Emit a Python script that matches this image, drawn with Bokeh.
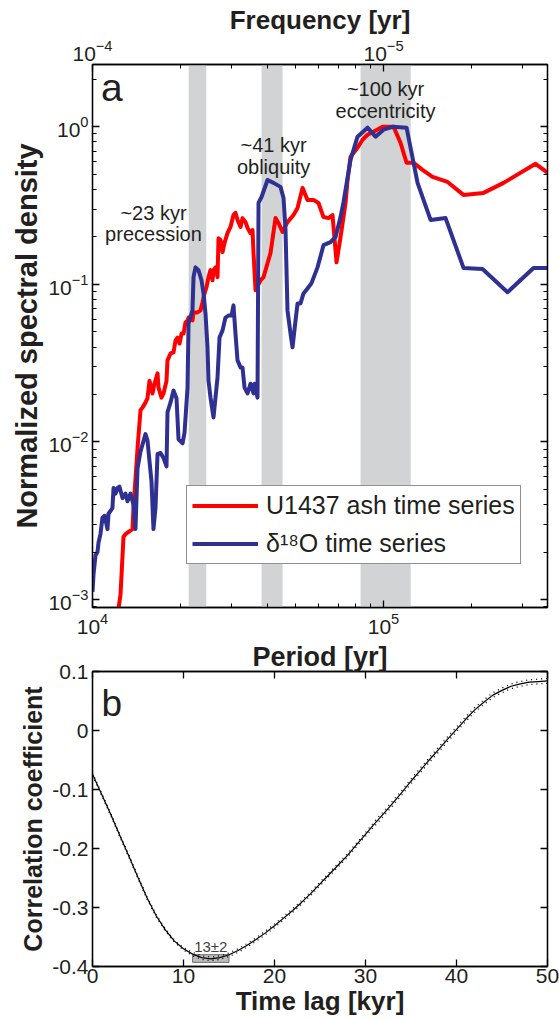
from bokeh.plotting import figure
from bokeh.models import (Range1d, LogAxis, LinearAxis, FixedTicker, LogTickFormatter,
                          LogScale, BoxAnnotation, Label, Legend, LegendItem,
                          CustomJSTickFormatter)
from bokeh.layouts import column
from bokeh.embed import file_html
from bokeh.resources import INLINE

FONT = "Liberation Sans"
TXT = "#231f20"
RED = "#ff0000"
BLUE = "#2e3192"

# ---------------- Panel a data (period in kyr, normalized spectral density) -------------
red_period = [12.19, 12.48, 12.78, 12.98, 13.72, 13.83, 14.28, 14.62, 14.85, 15.21, 15.45, 15.70,
              16.08, 16.33, 16.73, 16.86, 17.26, 17.54, 17.96, 18.10, 18.54, 18.98, 19.29, 19.60,
              19.91, 20.23, 20.55, 20.87, 21.21, 21.38, 22.06, 22.24, 22.95, 23.50, 23.88, 24.26,
              24.65, 25.04, 25.44, 25.85, 26.05, 26.47, 26.89, 27.10, 27.54, 27.98, 28.42, 29.10,
              29.80, 30.51, 31.00, 31.50, 32.26, 32.77, 33.57, 34.10, 34.91, 35.47, 35.75, 36.33,
              37.79, 38.70, 39.94, 40.90, 42.55, 43.57, 44.97, 46.78, 49.06, 50.65, 52.69, 54.81,
              57.47, 59.79, 62.19, 64.71, 66.79, 68.95, 71.17, 74.05, 75.23, 77.03, 81.42, 84.70,
              88.10, 92.38, 99.2, 108.2, 114.4, 120.0, 126.9, 136.1, 147.4, 166.0, 188.3, 220.6,
              258.5, 333.0, 366.1]
red_density = [0.0008, 0.00107, 0.0025, 0.0026, 0.0028, 0.0038, 0.0091, 0.0159, 0.0165, 0.0178,
               0.0189, 0.0244, 0.0203, 0.0234, 0.0272, 0.0221, 0.0191, 0.0203, 0.0244, 0.0329,
               0.0364, 0.037, 0.044, 0.0459, 0.0421, 0.0487, 0.0487, 0.0573, 0.059, 0.0615,
               0.059, 0.0663, 0.0663, 0.0683, 0.0767, 0.0875, 0.096, 0.111, 0.123, 0.106, 0.123,
               0.128, 0.111, 0.196, 0.191, 0.160, 0.183, 0.211, 0.231, 0.275, 0.284, 0.256,
               0.231, 0.263, 0.248, 0.228, 0.211, 0.221, 0.158, 0.0918, 0.106, 0.111, 0.136,
               0.158, 0.263, 0.245, 0.215, 0.248, 0.275, 0.305, 0.409, 0.343, 0.343, 0.328,
               0.267, 0.263, 0.275, 0.138, 0.199, 0.328, 0.459, 0.644, 0.735, 0.826, 0.889,
               0.929, 1.0, 1.0, 0.791, 0.590, 0.590, 0.532, 0.480, 0.446, 0.369, 0.380, 0.440,
               0.581, 0.510]

blue_period = [10.0, 10.08, 10.24, 10.40, 10.49, 10.65, 10.82, 11.0, 11.26, 11.35, 11.71, 11.81,
               12.0, 12.19, 12.38, 12.68, 12.98, 13.19, 13.51, 13.83, 14.05, 14.28, 14.62, 15.21,
               15.45, 15.95, 16.20, 16.46, 16.73, 17.13, 17.54, 17.96, 18.10, 18.54, 18.98, 19.44,
               19.75, 20.39, 20.71, 21.21, 21.38, 22.06, 22.24, 22.59, 23.13, 23.69, 24.07, 24.45,
               24.84, 25.04, 25.44, 26.05, 26.89, 27.32, 27.98, 28.64, 29.33, 30.04, 30.51, 31.00,
               31.50, 32.26, 32.77, 33.30, 34.10, 34.91, 35.75, 36.04, 36.90, 37.20, 38.09, 39.94,
               41.88, 44.26, 45.33, 46.05, 46.78, 47.91, 48.68, 49.85, 50.65, 51.86, 53.11, 54.81,
               56.57, 59.32, 62.19, 65.74, 68.40, 71.17, 72.89, 77.03, 81.42, 88.10, 93.87, 100.0,
               108.2, 120.0, 130.9, 145.1, 163.4, 188.3, 218.9, 266.8, 327.7, 366.1]
blue_density = [0.00112, 0.00144, 0.0019, 0.0020, 0.0023, 0.0026, 0.0033, 0.0034, 0.0028, 0.0035,
                0.0038, 0.0051, 0.0047, 0.0051, 0.0052, 0.0044, 0.0047, 0.0042, 0.0047, 0.0040,
                0.0028, 0.0068, 0.0087, 0.0112, 0.0102, 0.0056, 0.0028, 0.0038, 0.0084, 0.0085,
                0.0079, 0.0070, 0.0154, 0.0178, 0.0212, 0.0189, 0.0104, 0.0098, 0.0114, 0.0221,
                0.0564, 0.0683, 0.111, 0.128, 0.123, 0.106, 0.0875, 0.0653, 0.0398, 0.0244,
                0.0191, 0.0143, 0.0256, 0.0459, 0.0510, 0.0615, 0.0633, 0.0633, 0.0735, 0.0487,
                0.0329, 0.0297, 0.0297, 0.0221, 0.0203, 0.0234, 0.0203, 0.0234, 0.0191, 0.328,
                0.358, 0.459, 0.440, 0.415, 0.353, 0.221, 0.0683, 0.0487, 0.0398, 0.059, 0.0756,
                0.0756, 0.0875, 0.094, 0.1017, 0.128, 0.177, 0.185, 0.199, 0.267, 0.333, 0.616,
                0.864, 0.985, 0.864, 0.957, 1.0, 0.985, 0.440, 0.256, 0.263, 0.127, 0.125, 0.089,
                0.127, 0.127]

# orbital bands (kyr) and their labels
band_lo = [21.4, 38.1, 83.4]
band_hi = [24.6, 45.0, 124.0]
band_label1 = ["~23 kyr", "~41 kyr", "~100 kyr"]
band_label2 = ["precession", "obliquity", "eccentricity"]
band_label_x = [16.2, 41.9, 101.6]          # kyr
band_label_y1 = [0.283, 0.768, 1.746]
band_label_y2 = [0.208, 0.556, 1.264]

period_major = [1e4, 1e5]
period_minor = [2e4, 3e4, 4e4, 5e4, 6e4, 7e4, 8e4, 9e4, 2e5, 3e5]
dens_major = [1e-3, 1e-2, 1e-1, 1.0]
dens_minor = [k * 10.0 ** e for e in (-4, -3, -2, -1, 0) for k in range(2, 10)]

# ---------------- Panel b data -------------
lag = list(range(0, 51))
corr = [-0.074, -0.108, -0.142, -0.178, -0.213, -0.249, -0.284, -0.314, -0.338, -0.357,
        -0.370, -0.379, -0.385, -0.387, -0.385, -0.380, -0.373, -0.364, -0.354, -0.343,
        -0.331, -0.318, -0.305, -0.291, -0.276, -0.260, -0.244, -0.228, -0.212, -0.194,
        -0.176, -0.158, -0.141, -0.123, -0.105, -0.086, -0.068, -0.050, -0.033, -0.015,
        0.002, 0.019, 0.035, 0.048, 0.060, 0.068, 0.075, 0.079, 0.082, 0.083, 0.084]
ci_half = [0.002] * 11 + [0.003] * 20 + [0.004] * 20
lag_best = 13
lag_err = 2
lag_ticks = [0, 10, 20, 30, 40, 50]
corr_ticks = [-0.4, -0.3, -0.2, -0.1, 0.0, 0.1]

blank_fmt = CustomJSTickFormatter(code="return '';")


def style_axis(ax, labels=True, tick_size="21px", label_size="26px"):
    ax.axis_line_color = "black"
    ax.axis_line_width = 1.3
    ax.major_tick_line_color = "black"
    ax.minor_tick_line_color = "black"
    ax.major_tick_line_width = 1.3
    ax.minor_tick_line_width = 1.0
    ax.major_tick_in = 7
    ax.major_tick_out = 0
    ax.minor_tick_in = 4
    ax.minor_tick_out = 0
    ax.major_label_text_font = FONT
    ax.major_label_text_font_size = tick_size if labels else "1px"
    ax.major_label_text_color = TXT
    ax.major_label_standoff = 4 if labels else 0
    ax.axis_label_text_font = FONT
    ax.axis_label_text_font_style = "bold"
    ax.axis_label_text_font_size = label_size
    ax.axis_label_text_color = TXT
    ax.axis_label_standoff = 2 if labels else 0
    if not labels:
        ax.formatter = blank_fmt


# ============ Panel a ============
p1 = figure(width=559, height=638, x_axis_type="log", y_axis_type="log",
            x_range=Range1d(1e4, 3.66e5), y_range=Range1d(8.9e-4, 2.48),
            output_backend="svg", toolbar_location=None,
            min_border_left=92, min_border_right=12, min_border_top=64, min_border_bottom=31)
p1.xgrid.visible = False
p1.ygrid.visible = False
p1.outline_line_color = "black"
p1.outline_line_width = 1.3

for lo, hi in zip(band_lo, band_hi):
    p1.add_layout(BoxAnnotation(left=lo * 1000, right=hi * 1000, fill_color="#d1d3d4",
                                fill_alpha=1.0, line_alpha=0, level="underlay"))

r_red = p1.line([v * 1000 for v in red_period], red_density, line_color=RED, line_width=4,
                line_join="round")
r_blue = p1.line([v * 1000 for v in blue_period], blue_density, line_color=BLUE, line_width=4,
                 line_join="round")

p1.xaxis.ticker = FixedTicker(ticks=period_major, minor_ticks=period_minor)
p1.yaxis.ticker = FixedTicker(ticks=dens_major, minor_ticks=dens_minor)
p1.xaxis.formatter = LogTickFormatter()
p1.yaxis.formatter = LogTickFormatter()
p1.yaxis.axis_label = "Normalized spectral density"
style_axis(p1.xaxis[0])
style_axis(p1.yaxis[0], label_size="29px")
p1.xaxis.major_label_standoff = 5

right_a = LogAxis(ticker=FixedTicker(ticks=dens_major, minor_ticks=dens_minor))
style_axis(right_a, labels=False)
p1.add_layout(right_a, "right")

p1.extra_x_ranges = {"freq": Range1d(1.0 / 1e4, 1.0 / 3.66e5)}
p1.extra_x_scales = {"freq": LogScale()}
top_a = LogAxis(x_range_name="freq",
                ticker=FixedTicker(ticks=[1.0 / v for v in period_major],
                                   minor_ticks=[1.0 / v for v in period_minor]),
                formatter=LogTickFormatter(), axis_label="Frequency [yr]")
style_axis(top_a)
p1.add_layout(top_a, "above")

for x, y1, y2, t1, t2 in zip(band_label_x, band_label_y1, band_label_y2, band_label1, band_label2):
    for yy, tt in ((y1, t1), (y2, t2)):
        p1.add_layout(Label(x=x * 1000, y=yy, text=tt, text_font=FONT, text_font_size="20px",
                            text_color=TXT, text_align="center", text_baseline="middle"))

p1.add_layout(Label(x=1.07e4, y=1.78, text="a", text_font=FONT, text_font_size="39px",
                    text_color=TXT, text_align="left", text_baseline="alphabetic"))

legend = Legend(items=[LegendItem(label="U1437 ash time series", renderers=[r_red]),
                       LegendItem(label="\u03b4\u00b9\u2078O time series", renderers=[r_blue])],
                location=(94, 43))
legend.label_text_font = FONT
legend.label_text_font_size = "25px"
legend.label_text_color = TXT
legend.glyph_width = 66
legend.glyph_height = 29
legend.label_height = 29
legend.label_standoff = 8
legend.spacing = 9
legend.padding = 5
legend.margin = 0
legend.border_line_color = TXT
legend.border_line_width = 1
legend.background_fill_alpha = 1
p1.add_layout(legend, "center")

# ============ Panel b ============
p2 = figure(width=559, height=381, x_range=Range1d(0, 50), y_range=Range1d(-0.4, 0.1),
            output_backend="svg", toolbar_location=None,
            min_border_left=92, min_border_right=12, min_border_top=31, min_border_bottom=53)
p2.xgrid.visible = False
p2.ygrid.visible = False
p2.outline_line_color = "black"
p2.outline_line_width = 1.3

num_fmt = CustomJSTickFormatter(code="return String(Math.round(tick*10)/10);")
p2.xaxis.ticker = FixedTicker(ticks=lag_ticks, minor_ticks=[])
p2.yaxis.ticker = FixedTicker(ticks=corr_ticks, minor_ticks=[])
p2.xaxis.formatter = num_fmt
p2.yaxis.formatter = num_fmt
p2.xaxis.axis_label = "Time lag [kyr]"
p2.yaxis.axis_label = "Correlation coefficient"
style_axis(p2.xaxis[0])
style_axis(p2.yaxis[0], label_size="25px")
p2.xaxis.major_label_standoff = 2
p2.xaxis.axis_label_standoff = 0
right_b = LinearAxis(ticker=FixedTicker(ticks=corr_ticks, minor_ticks=[]))
style_axis(right_b, labels=False)
p2.add_layout(right_b, "right")
# the top edge of panel b carries the period label of panel a, just above it
top_b = LinearAxis(ticker=FixedTicker(ticks=lag_ticks, minor_ticks=[]), axis_label="Period [yr]")
style_axis(top_b, labels=False, label_size="27px")
p2.add_layout(top_b, "above")

p2.quad(left=[lag_best - lag_err], right=[lag_best + lag_err], bottom=[-0.393], top=[-0.380],
        fill_color="#b5b5b5", fill_alpha=0.9, line_color="#6e6e6e", line_width=1)

upper = [c + h for c, h in zip(corr, ci_half)]
lower = [c - h for c, h in zip(corr, ci_half)]
p2.line(lag, upper, line_color="black", line_width=1.3, line_dash="1 4")
p2.line(lag, lower, line_color="black", line_width=1.3, line_dash="1 4")
p2.line(lag, corr, line_color="black", line_width=1.2)

p2.add_layout(Label(x=lag_best, y=-0.366, text="%d\u00b1%d" % (lag_best, lag_err), text_font=FONT,
                    text_font_size="15px", text_color="#404040", text_align="center",
                    text_baseline="middle"))
p2.add_layout(Label(x=1.0, y=0.045, text="b", text_font=FONT, text_font_size="37px",
                    text_color=TXT, text_align="left", text_baseline="alphabetic"))

layout = column(p1, p2)
open("out.html", "w").write(file_html(layout, INLINE))
